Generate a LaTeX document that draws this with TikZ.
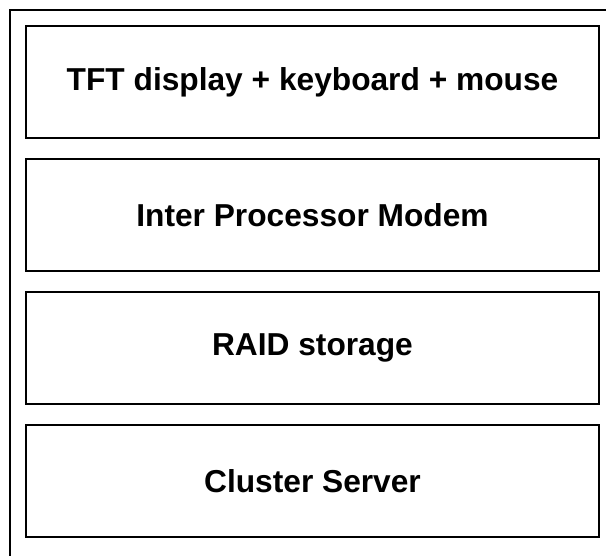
\documentclass[tikz,border=0pt]{standalone}
\usepackage{fontspec}
\setmainfont{Liberation Sans}
\usetikzlibrary{positioning}

\begin{document}
\begin{tikzpicture}[x=1pt,y=-1pt,node distance=19pt,
      layer/.style={rectangle,draw,line width=2pt,minimum width=573pt,minimum height=112pt,
        inner sep=0pt,font=\fontsize{31.7}{38}\selectfont\bfseries}]

      \useasboundingbox (0,0) rectangle (606,556);
      \clip (0,0) rectangle (606,556);

      % outer frame, runs off the right and bottom edge
      \draw[line width=2pt] (10,600) -- (10,10) -- (640,10);

      \node[layer,anchor=north west] (tft) at (25,25) {TFT display + keyboard + mouse};
      \node[layer] (ipm) [below=of tft] {Inter Processor Modem};
      \node[layer] (raid) [below=of ipm] {RAID storage};
      \node[layer] (cluster) [below=of raid] {Cluster Server};
    \end{tikzpicture}
\end{document}
